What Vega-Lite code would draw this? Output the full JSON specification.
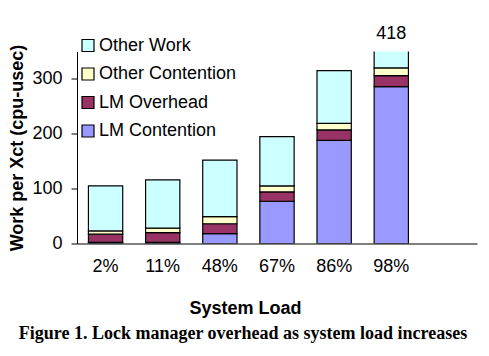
{
  "$schema": "https://vega.github.io/schema/vega-lite/v6.json",
  "autosize": "none",
  "width": 400,
  "height": 192,
  "padding": {"left": 77, "top": 51.5, "right": 12, "bottom": 112.5},
  "background": "white",
  "config": {
    "view": {"stroke": null},
    "font": "Liberation Sans",
    "axis": {"grid": false, "domainColor": "#000", "tickColor": "#000", "labelColor": "#000", "titleColor": "#000", "labelFont": "Liberation Sans", "titleFont": "Liberation Sans"}
  },
  "title": {
    "text": "Figure 1. Lock manager overhead as system load increases",
    "orient": "bottom",
    "anchor": "middle",
    "font": "Liberation Serif",
    "fontSize": 18,
    "fontWeight": "bold",
    "color": "#000",
    "dx": -34,
    "offset": 8
  },
  "data": {
    "values": [
      {"load": "2%", "component": "LM Contention", "value": 2},
      {"load": "2%", "component": "LM Overhead", "value": 15},
      {"load": "2%", "component": "Other Contention", "value": 6},
      {"load": "2%", "component": "Other Work", "value": 82},
      {"load": "11%", "component": "LM Contention", "value": 2},
      {"load": "11%", "component": "LM Overhead", "value": 18},
      {"load": "11%", "component": "Other Contention", "value": 8},
      {"load": "11%", "component": "Other Work", "value": 88},
      {"load": "48%", "component": "LM Contention", "value": 18},
      {"load": "48%", "component": "LM Overhead", "value": 18},
      {"load": "48%", "component": "Other Contention", "value": 13},
      {"load": "48%", "component": "Other Work", "value": 103},
      {"load": "67%", "component": "LM Contention", "value": 77},
      {"load": "67%", "component": "LM Overhead", "value": 17},
      {"load": "67%", "component": "Other Contention", "value": 11},
      {"load": "67%", "component": "Other Work", "value": 90},
      {"load": "86%", "component": "LM Contention", "value": 188},
      {"load": "86%", "component": "LM Overhead", "value": 19},
      {"load": "86%", "component": "Other Contention", "value": 12},
      {"load": "86%", "component": "Other Work", "value": 96},
      {"load": "98%", "component": "LM Contention", "value": 286},
      {"load": "98%", "component": "LM Overhead", "value": 20},
      {"load": "98%", "component": "Other Contention", "value": 14},
      {"load": "98%", "component": "Other Work", "value": 98}
    ]
  },
  "encoding": {
    "x": {
      "field": "load",
      "type": "nominal",
      "scale": {"domain": ["2%", "11%", "48%", "67%", "86%", "98%", " "], "paddingInner": 0.4, "paddingOuter": 0.2},
      "axis": {
        "title": "System Load",
        "labelAngle": 0,
        "labelFontSize": 18,
        "labelPadding": 14,
        "ticks": false,
        "titleFontSize": 18,
        "titleFontWeight": "bold",
        "titleX": 168,
        "titleY": 69.5,
        "titleBaseline": "alphabetic"
      }
    }
  },
  "layer": [
    {
      "mark": {"type": "bar", "stroke": "#000", "strokeWidth": 1.2, "clip": true, "opacity": 1},
      "encoding": {
        "y": {
          "field": "value",
          "type": "quantitative",
          "stack": "zero",
          "scale": {"domain": [0, 350], "nice": false},
          "axis": {
            "title": "Work per Xct (cpu-usec)",
            "values": [0, 100, 200, 300],
            "labelFontSize": 18,
            "tickSize": 6,
            "labelPadding": 9,
            "titleFontSize": 18,
            "titleFontWeight": "bold",
            "titlePadding": 5
          }
        },
        "color": {
          "field": "component",
          "type": "nominal",
          "scale": {
            "domain": ["LM Contention", "LM Overhead", "Other Contention", "Other Work"],
            "range": ["#9999FF", "#993366", "#FFFFCC", "#CCFFFF"]
          },
          "legend": {
            "title": null,
            "orient": "none",
            "legendX": 2,
            "legendY": -15,
            "values": ["Other Work", "Other Contention", "LM Overhead", "LM Contention"],
            "symbolType": "square",
            "symbolSize": 144,
            "symbolStrokeColor": "#000",
            "symbolStrokeWidth": 1.2,
            "symbolOpacity": 1,
            "labelFontSize": 18,
            "labelColor": "#000",
            "labelFont": "Liberation Sans",
            "labelOffset": 2,
            "rowPadding": 10.5
          }
        },
        "order": {"field": "component", "type": "nominal", "sort": "ascending"}
      }
    },
    {
      "data": {"values": [{"load": "98%", "total": 418}]},
      "mark": {"type": "text", "fontSize": 18, "baseline": "alphabetic", "dy": -13, "color": "#000", "font": "Liberation Sans"},
      "encoding": {
        "y": {"datum": 350, "type": "quantitative"},
        "text": {"field": "total", "type": "quantitative"}
      }
    }
  ]
}
